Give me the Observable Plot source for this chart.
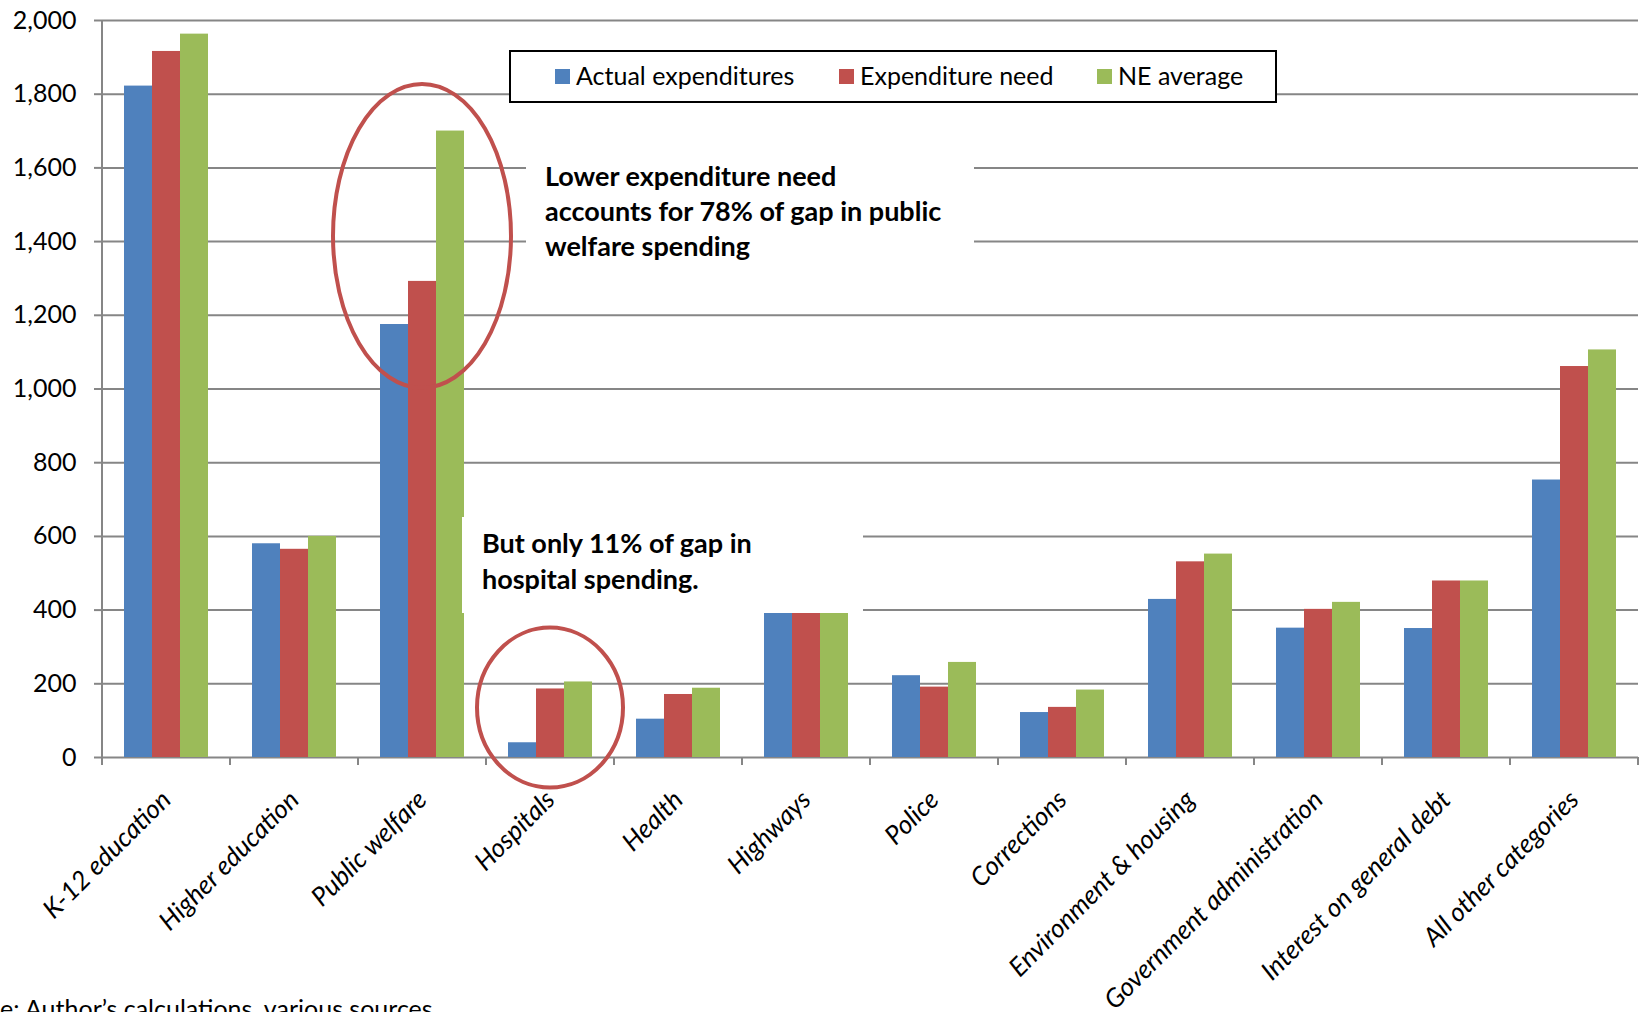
<!DOCTYPE html>
<html>
<head>
<meta charset="utf-8">
<script src="https://cdn.jsdelivr.net/npm/d3@7"></script>
<script src="https://cdn.jsdelivr.net/npm/@observablehq/plot@0.6"></script>
<style>
  html, body { margin: 0; padding: 0; background: #fff; }
  svg { display: block; }
</style>
</head>
<body>
<div id="chart"></div>
<script>
// ---- Data ----
const categories = [
  "K-12 education", "Higher education", "Public welfare", "Hospitals", "Health",
  "Highways", "Police", "Corrections", "Environment & housing",
  "Government administration", "Interest on general debt", "All other categories"
];
const series = ["Actual expenditures", "Expenditure need", "NE average"];
const actualExpenditures = [1822, 580, 1175, 40, 104, 392, 222, 122, 429, 351, 350, 753];
const expenditureNeed    = [1916, 565, 1292, 186, 171, 392, 191, 136, 531, 402, 479, 1061];
const neAverage          = [1963, 600, 1700, 205, 188, 392, 258, 183, 552, 421, 479, 1106];
const yTicks = [0, 200, 400, 600, 800, 1000, 1200, 1400, 1600, 1800, 2000];
const seriesColors = ["#4F81BD", "#C0504D", "#9BBB59"];

const ellipseCategories = ["Public welfare", "Hospitals"];
const ellipseValues = [1414, 134];
const noteLines1 = ["Lower expenditure need", "accounts for 78% of gap in public", "welfare spending"];
const noteLines2 = ["But only 11% of gap in", "hospital spending."];
const sourceText = "Source: Author\u2019s calculations, various sources";

const rows = categories.flatMap((c, i) => [
  {category: c, series: series[0], value: actualExpenditures[i]},
  {category: c, series: series[1], value: expenditureNeed[i]},
  {category: c, series: series[2], value: neAverage[i]}
]);

const FONT = "Lato, 'Open Sans', sans-serif";
const GRID = "#868686";

const plot = Plot.plot({
  width: 1646,
  height: 1012,
  marginLeft: 100,
  marginRight: 6,
  marginTop: 20,
  marginBottom: 255,
  style: {fontFamily: FONT, background: "white", color: "black"},
  fx: {domain: categories, padding: 0, label: null},
  x: {domain: series, paddingInner: 0, paddingOuter: 0.756, axis: null},
  y: {domain: [0, 2000], label: null},
  color: {domain: series, range: seriesColors},
  marks: [
    Plot.gridY(yTicks, {stroke: GRID, strokeOpacity: 1, strokeWidth: 2}),
    Plot.barY(rows, {fx: "category", x: "series", y: "value", fill: "series"}),
    Plot.axisY(yTicks, {tickFormat: d3.format(","), tickSize: 8, tickPadding: 18,
      fontSize: 25, stroke: GRID, strokeWidth: 2, label: null}),
    Plot.axisFx({anchor: "bottom", tickSize: 0, tickRotate: -45, fontSize: 26, fontStyle: "italic",
      textAnchor: "end", tickPadding: 38, label: null})
  ]
});
document.getElementById("chart").append(plot);

const svg = d3.select(plot);
const fx = plot.scale("fx");
const y = plot.scale("y");
const step = fx.apply(categories[1]) - fx.apply(categories[0]);
const x0 = fx.apply(categories[0]);
const yBase = y.apply(0);

// axis line and category boundary ticks
const deco = svg.append("g").attr("stroke", GRID).attr("stroke-width", 2);
deco.append("line").attr("x1", x0).attr("x2", x0).attr("y1", y.apply(2000)).attr("y2", yBase + 8);
for (let i = 0; i <= categories.length; i++) {
  const xb = x0 + i * step;
  deco.append("line").attr("x1", xb).attr("x2", xb).attr("y1", yBase).attr("y2", yBase + 8);
}

// annotation boxes + text
const notes = svg.append("g").attr("text-anchor", "start")
  .style("font-family", FONT).style("font-weight", "bold").style("font-size", "27px");
notes.append("rect").attr("x", 526).attr("y", 140).attr("width", 448).attr("height", 130).attr("fill", "white");
noteLines1.forEach((t, i) => notes.append("text").attr("x", 545).attr("y", 186 + i * 35).text(t));
notes.append("rect").attr("x", 462).attr("y", 517).attr("width", 401).attr("height", 96).attr("fill", "white");
noteLines2.forEach((t, i) => notes.append("text").attr("x", 482).attr("y", 553 + i * 36).text(t));

// ellipses
const ellipseR = [[89, 152], [73, 80]];
ellipseCategories.forEach((c, i) => {
  svg.append("ellipse")
    .attr("cx", fx.apply(c) + step / 2)
    .attr("cy", y.apply(ellipseValues[i]))
    .attr("rx", ellipseR[i][0]).attr("ry", ellipseR[i][1])
    .attr("fill", "none").attr("stroke", "#C0504D").attr("stroke-width", 4);
});

// legend
const lg = svg.append("g").attr("text-anchor", "start").style("font-family", FONT).style("font-size", "25px");
lg.append("rect").attr("x", 510).attr("y", 51).attr("width", 766).attr("height", 51)
  .attr("fill", "white").attr("stroke", "black").attr("stroke-width", 2);
const legendX = [555, 839, 1097];
series.forEach((s, i) => {
  lg.append("rect").attr("x", legendX[i]).attr("y", 69).attr("width", 15).attr("height", 15).attr("fill", seriesColors[i]);
  lg.append("text").attr("x", legendX[i] + 21).attr("y", 76).attr("dy", "0.35em").text(s);
});

// source (clipped at left edge as in original)
const src = svg.append("text").attr("text-anchor", "start").attr("y", 1018)
  .style("font-family", FONT).style("font-size", "25px").text(sourceText);
const off = src.node().getSubStringLength(0, 5);
src.attr("x", -off);
</script>
</body>
</html>
